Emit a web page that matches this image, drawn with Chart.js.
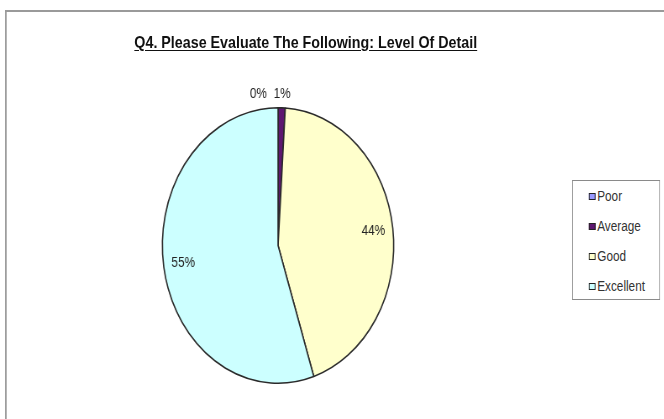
<!DOCTYPE html>
<html>
<head>
<meta charset="utf-8">
<script src="https://cdn.jsdelivr.net/npm/chart.js@4.4.1/dist/chart.umd.min.js"></script>
<style>
  html, body { margin: 0; padding: 0; background: #fff; overflow: hidden; }
  /* the reference is horizontally squeezed, so draw wide and squeeze the whole sheet */
  #sheet { position: relative; width: 791px; height: 419px; transform: scaleX(0.84); transform-origin: 0 0; }
  #frame { position: absolute; left: 6px; top: 10px; right: -10px; bottom: -10px;
           border-left: 2px solid #9a9a9a; border-top: 2px solid #9a9a9a; }
  #c { position: absolute; left: 0; top: 0; }
  #title { position: absolute; left: 64px; width: 600px; top: 33px; text-align: center;
           font: bold 17px "Liberation Sans", Arial, sans-serif; line-height: 20px; color: #111;
           text-decoration: underline; text-underline-offset: 2px; }
  #legend { position: absolute; left: 681px; top: 180px; width: 105px; height: 120px;
            box-sizing: border-box; border: 1px solid #8a8a8a; background: #fff; }
  .item { height: 30px; display: flex; align-items: center; padding-left: 19px;
          font: 14px "Liberation Sans", Arial, sans-serif; color: #333; }
  .sw { width: 8px; height: 7px; box-sizing: border-box; border: 1px solid #222; margin-right: 2px; }
</style>
</head>
<body>
<div id="sheet">
  <div id="frame"></div>
  <canvas id="c" width="791" height="419"></canvas>
  <div id="title">Q4. Please Evaluate The Following: Level Of Detail</div>
  <div id="legend"></div>
</div>
<script>
// chart data
const categories = ["Poor", "Average", "Good", "Excellent"];
const percentValues = [0, 1, 44, 55];
const sliceColors = ["#9999FF", "#5e1770", "#FFFFCC", "#CCFFFF"];

// percentage labels: inside the slice, or just outside the rim for thin slices
const pctLabels = {
  id: "pctLabels",
  afterDatasetsDraw(chart) {
    const ctx = chart.ctx;
    const meta = chart.getDatasetMeta(0);
    const total = percentValues.reduce((a, b) => a + b, 0);
    ctx.save();
    ctx.font = '14px "Liberation Sans", Arial, sans-serif';
    ctx.fillStyle = "#222";
    ctx.textBaseline = "middle";
    ctx.textAlign = "center";
    const outside = [];
    meta.data.forEach((arc, i) => {
      const p = arc.getProps(["x", "y", "startAngle", "endAngle", "outerRadius"], true);
      const mid = (p.startAngle + p.endAngle) / 2;
      const share = percentValues[i] / total;
      const text = Math.round(share * 100) + "%";
      if (share < 0.05) {
        const r = p.outerRadius + 14;
        outside.push({ text, x: p.x + Math.cos(mid) * r, y: p.y + Math.sin(mid) * r });
      } else {
        const r = p.outerRadius * 0.83;
        ctx.fillText(text, p.x + Math.cos(mid) * r, p.y + Math.sin(mid) * r);
      }
    });
    // push crowded outside labels apart, working leftwards
    for (let i = outside.length - 2; i >= 0; i--) {
      const a = outside[i], b = outside[i + 1];
      const wa = ctx.measureText(a.text).width, wb = ctx.measureText(b.text).width;
      const minGap = (wa + wb) / 2 + 8;
      if (Math.abs(a.y - b.y) < 14 && b.x - a.x < minGap) a.x = b.x - minGap;
    }
    outside.forEach(l => ctx.fillText(l.text, l.x, l.y));
    ctx.restore();
  }
};

const chart = new Chart(document.getElementById("c"), {
  type: "pie",
  data: {
    labels: categories,
    datasets: [{
      data: percentValues,
      backgroundColor: sliceColors,
      borderColor: "#2a2a2a",
      borderWidth: 1.6
    }]
  },
  options: {
    responsive: false,
    devicePixelRatio: 1,
    animation: false,
    layout: { padding: { left: 192.5, right: 321.5, top: 107, bottom: 35 } },
    plugins: {
      legend: { display: false },
      tooltip: { enabled: false },
      title: { display: false }
    }
  },
  plugins: [pctLabels]
});

// legend box built from the chart's own labels and colours
const legendEl = document.getElementById("legend");
chart.data.labels.forEach((label, i) => {
  const row = document.createElement("div");
  row.className = "item";
  const sw = document.createElement("span");
  sw.className = "sw";
  sw.style.background = chart.data.datasets[0].backgroundColor[i];
  row.appendChild(sw);
  row.appendChild(document.createTextNode(label));
  legendEl.appendChild(row);
});
</script>
</body>
</html>
